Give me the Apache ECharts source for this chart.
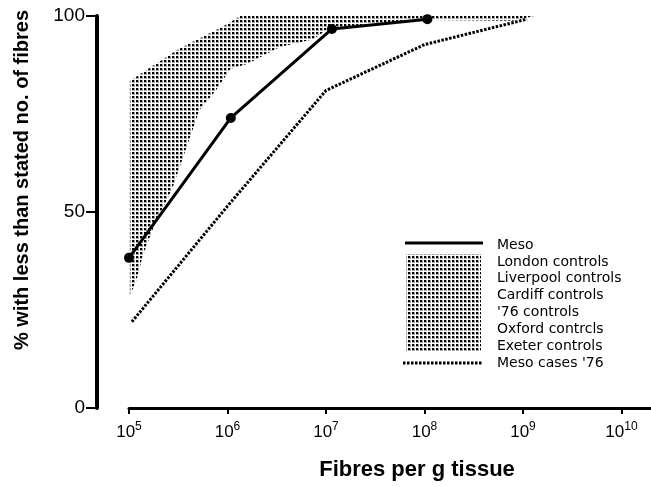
<!DOCTYPE html>
<html>
<head>
<meta charset="utf-8">
<script src="https://cdn.jsdelivr.net/npm/echarts@6/dist/echarts.min.js"></script>
<style>
  html, body { margin: 0; padding: 0; background: #fff; }
  #chart { width: 651px; height: 487px; }
</style>
</head>
<body>
<div id="chart"></div>
<script>
// fibres per g tissue (x) and % with less than stated no. of fibres (y)
var mesoFibres = [1.0e5, 1.08e6, 1.15e7, 1.07e8];
var mesoPct = [38.3, 74.0, 96.7, 99.2];

var casesFibres = [1.07e5, 1.0e6, 1.0e7, 1.0e8, 1.1e9];
var casesPct = [22, 51.5, 81, 92.7, 99.2];

// outline of the shaded band of control groups (upper edge, then lower edge back)
var shadeFibres = [1.02e5, 1.45e5, 3.2e5, 9.1e5, 1.35e6, 1.3e9,
  7.9e8, 1.07e8, 1.02e7, 7.4e6, 3.4e6, 1.6e6, 1.07e6, 7.8e5, 5.2e5, 3.9e5,
  2.8e5, 2.45e5, 1.9e5, 1.5e5, 1.35e5, 1.2e5, 1.02e5];
var shadePct = [83.4, 86, 91.6, 97.4, 100, 100,
  98.8, 99.0, 96.5, 94.1, 92.1, 87.8, 86.5, 81.4, 76, 67,
  56.6, 53.3, 48, 41.3, 38, 32.9, 28.6];

var xTickExponents = [5, 6, 7, 8, 9, 10];
var legendLabels = ['Meso', 'London controls', 'Liverpool controls', 'Cardiff controls',
  "'76 controls", 'Oxford contrcls', 'Exeter controls', "Meso cases '76"];

function pairs(xs, ys) {
  return xs.map(function (x, i) { return [Math.log10(x), ys[i]]; });
}

// dot stipple
var dotCanvas = document.createElement('canvas');
dotCanvas.width = 4;
dotCanvas.height = 4;
var dctx = dotCanvas.getContext('2d');
dctx.fillStyle = 'rgba(0,0,0,0.35)';
dctx.fillRect(0, 0, 3, 3);
dctx.fillStyle = '#000';
dctx.fillRect(0, 0, 2, 2);
var stipple = { type: 'pattern', image: dotCanvas, repeat: 'repeat' };

var shadePoints = pairs(shadeFibres, shadePct);

var chart = echarts.init(document.getElementById('chart'));
var font = 'Liberation Sans, Arial, Helvetica, sans-serif';
var legendFont = 'DejaVu Sans, sans-serif';

var legendY0 = 245, legendStep = 16.86;
var graphics = [];
graphics.push({
  type: 'text', x: 22, y: 180, rotation: Math.PI / 2,
  style: { text: '% with less than stated no. of fibres', font: 'bold 20px ' + font,
    fill: '#000', align: 'center', verticalAlign: 'middle' }
});
graphics.push({
  type: 'text', x: 417, y: 470,
  style: { text: 'Fibres per g tissue', font: 'bold 22px ' + font,
    fill: '#000', align: 'center', verticalAlign: 'middle' }
});
graphics.push({
  type: 'line', shape: { x1: 405, y1: 243, x2: 483, y2: 243 },
  style: { stroke: '#000', lineWidth: 3 }
});
graphics.push({
  type: 'rect', shape: { x: 406, y: 254, width: 75, height: 98 },
  style: { fill: stipple }
});
graphics.push({
  type: 'line', shape: { x1: 403, y1: 363, x2: 482, y2: 363 },
  style: { stroke: '#000', lineWidth: 3, lineDash: [2.5, 1.5] }
});
legendLabels.forEach(function (t, i) {
  graphics.push({
    type: 'text', x: 497, y: legendY0 + i * legendStep,
    style: { text: t, font: '14px ' + legendFont, fill: '#000', verticalAlign: 'middle' }
  });
});

var option = {
  animation: false,
  backgroundColor: '#fff',
  grid: { left: 129, right: 0, top: 16, bottom: 79, containLabel: false, outerBoundsMode: 'none' },
  xAxis: {
    type: 'value',
    min: 5,
    max: 10.3,
    offset: 2,
    axisLine: { lineStyle: { color: '#000', width: 3 } },
    axisTick: { customValues: xTickExponents, length: 6, lineStyle: { color: '#000', width: 2 } },
    axisLabel: {
      customValues: xTickExponents,
      margin: 11,
      formatter: function (v) { return '{b|10}{s|' + v + '}'; },
      rich: {
        b: { fontFamily: font, fontSize: 17, color: '#000', verticalAlign: 'bottom' },
        s: { fontFamily: font, fontSize: 12, color: '#000', verticalAlign: 'bottom', padding: [0, 0, 8, 0] }
      }
    },
    splitLine: { show: false }
  },
  yAxis: {
    type: 'value',
    min: 0,
    max: 100,
    interval: 50,
    offset: 32,
    axisLine: { show: true, lineStyle: { color: '#000', width: 4 } },
    axisTick: { show: true, length: 11, lineStyle: { color: '#000', width: 2 } },
    axisLabel: { fontFamily: font, fontSize: 19, color: '#000', margin: 12 },
    splitLine: { show: false }
  },
  graphic: graphics,
  series: [
    {
      name: 'controls',
      type: 'custom',
      data: [0],
      silent: true,
      renderItem: function (params, api) {
        return {
          type: 'polygon',
          shape: { points: shadePoints.map(function (p) { return api.coord(p); }) },
          style: { fill: stipple }
        };
      },
      z: 1
    },
    {
      name: "Meso cases '76",
      type: 'line',
      data: pairs(casesFibres, casesPct),
      showSymbol: false,
      lineStyle: { color: '#000', width: 3, type: [2.5, 1.5] },
      z: 2
    },
    {
      name: 'Meso',
      type: 'line',
      data: pairs(mesoFibres, mesoPct),
      symbol: 'circle',
      symbolSize: 10,
      itemStyle: { color: '#000' },
      lineStyle: { color: '#000', width: 3 },
      z: 3
    }
  ]
};
chart.setOption(option);
</script>
</body>
</html>
